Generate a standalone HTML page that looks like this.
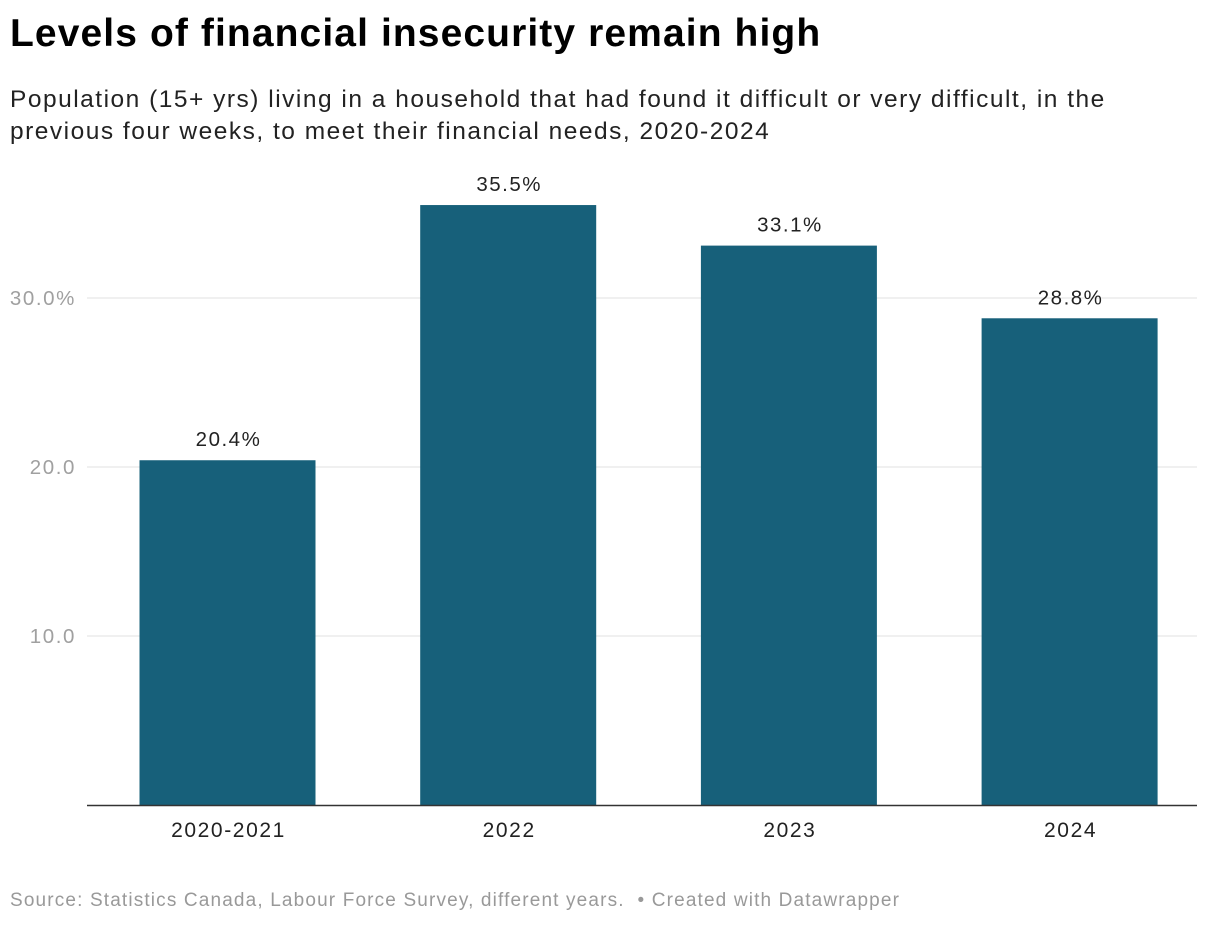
<!DOCTYPE html>
<html><head><meta charset="utf-8"><style>
body{margin:0;background:#fff;font-family:"Liberation Sans",Arial,sans-serif;}
#wrap{position:relative;width:1220px;height:926px;overflow:hidden;}
.t{position:absolute;left:10px;white-space:nowrap;}
</style></head><body>
<div id="wrap">
<div class="t" style="top:12px;font-size:39px;font-weight:bold;color:#000;letter-spacing:1.1px">Levels of financial insecurity remain high</div>
<div class="t" style="top:84px;font-size:24.5px;line-height:32px;color:#222;letter-spacing:1.5px">Population (15+ yrs) living in a household that had found it difficult or very difficult, in the<br>previous four weeks, to meet their financial needs, 2020-2024</div>
<svg id="chart" width="1220" height="926" style="position:absolute;left:0;top:0"></svg>
<div class="t" style="top:890px;font-size:19px;color:#999;letter-spacing:1.15px">Source: Statistics Canada, Labour Force Survey, different years. &nbsp;• Created with Datawrapper</div>
</div>
<script>
const categories=["2020-2021","2022","2023","2024"];
const values=[20.4,35.5,33.1,28.8];
const valueLabels=["20.4%","35.5%","33.1%","28.8%"];
const ticks=[10,20,30];
const tickLabels=["10.0","20.0","30.0%"];
const NS="http://www.w3.org/2000/svg";
const svg=document.getElementById('chart');
const x0=87,x1=1197,y0=805,pxPerUnit=16.9;
const y=v=>y0-v*pxPerUnit;
const band=280.7, firstCenter=227.5;
const xc=i=>firstCenter+band*i;
const bw=176;
function mk(t,a){const e=document.createElementNS(NS,t);for(const k in a)e.setAttribute(k,a[k]);svg.appendChild(e);return e;}
ticks.forEach((t,i)=>{
 const g=mk('line',{x1:x0,x2:x1,y1:y(t),y2:y(t),stroke:'#e0e0e0','stroke-width':1});
 
 
 const l=mk('text',{x:76,y:y(t)+7,'text-anchor':'end','font-size':20.5,fill:'#a0a0a0','letter-spacing':1.6,'font-family':'Liberation Sans, sans-serif'});
 l.textContent=tickLabels[i];
 
 
});
categories.forEach((c,i)=>{
 const cx=xc(i);
 const r=mk('rect',{x:cx-bw/2,y:y(values[i]),width:bw,height:y0-y(values[i]),fill:'#17607a'});
 
 
 const v=mk('text',{x:cx+1,y:y(values[i])-14,'text-anchor':'middle','font-size':20.5,fill:'#222','letter-spacing':1.5,'font-family':'Liberation Sans, sans-serif'});
 v.textContent=valueLabels[i];
 
 
 const xl=mk('text',{x:cx+1,y:837,'text-anchor':'middle','font-size':21,fill:'#222','letter-spacing':1.6,'font-family':'Liberation Sans, sans-serif'});
 xl.textContent=c;
 
 
});
const ax=mk('line',{x1:x0,x2:x1,y1:y0+0.5,y2:y0+0.5,stroke:'#333','stroke-width':1.5});


</script>
</body></html>
